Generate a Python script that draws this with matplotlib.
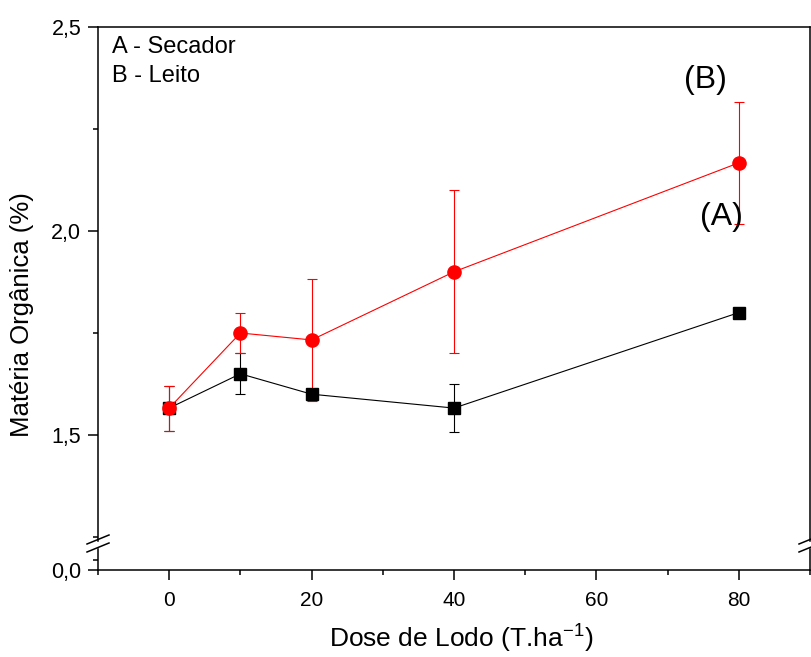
import matplotlib
matplotlib.use("Agg")
import matplotlib.pyplot as plt
from matplotlib.lines import Line2D
from matplotlib.ticker import FixedLocator, FuncFormatter, MultipleLocator

plt.rcParams['font.family'] = ['Liberation Sans', 'DejaVu Sans']

# Sludge dose (T/ha)
dose = [0, 10, 20, 40, 80]
# A - Secador (dryer)
secador = [1.566, 1.65, 1.60, 1.566, 1.80]
secador_err = [0.055, 0.05, 0.0, 0.058, 0.0]
# B - Leito (drying bed)
leito = [1.566, 1.75, 1.733, 1.90, 2.167]
leito_err = [0.055, 0.05, 0.15, 0.20, 0.15]

W, H = 812, 657
fig = plt.figure(figsize=(W / 100, H / 100), dpi=100)

def fx(px):
    return px / W

def fy(py):
    return 1 - py / H

left, right = 98, 810
top, brk_hi, brk_lo, bottom = 27, 541, 549, 570

ax = fig.add_axes([fx(left), fy(brk_hi), fx(right) - fx(left), fy(top) - fy(brk_hi)])
axb = fig.add_axes([fx(left), fy(bottom), fx(right) - fx(left), fy(brk_lo) - fy(bottom)], sharex=ax)

px_per_unit = 408.0
ax.set_ylim(1.5 - (brk_hi - 435) / px_per_unit, 2.5)
axb.set_ylim(0.0, (bottom - brk_lo) / px_per_unit)
ax.set_xlim(-10, 90)

comma = FuncFormatter(lambda v, p: f"{v:.1f}".replace('.', ','))
ax.yaxis.set_major_locator(FixedLocator([1.5, 2.0, 2.5]))
ax.yaxis.set_minor_locator(FixedLocator([1.25, 1.75, 2.25]))
ax.yaxis.set_major_formatter(comma)
axb.yaxis.set_major_locator(FixedLocator([0.0]))
axb.yaxis.set_minor_locator(FixedLocator([0.025]))
axb.yaxis.set_major_formatter(comma)
axb.xaxis.set_major_locator(MultipleLocator(20))
axb.xaxis.set_minor_locator(MultipleLocator(10))

for a in (ax, axb):
    for s in a.spines.values():
        s.set_linewidth(1.1)
    a.tick_params(which='major', direction='out', length=7, width=1.1)
    a.tick_params(which='minor', direction='out', length=3.5, width=1.1)
    a.tick_params(axis='y', which='both', right=False, labelsize=15.5, pad=5)
    a.tick_params(axis='x', which='both', top=False, labelsize=15, pad=8)

ax.spines['bottom'].set_visible(False)
axb.spines['top'].set_visible(False)
ax.tick_params(axis='x', which='both', bottom=False, labelbottom=False)

# Series: error bars below, markers stacked above them
ax.errorbar(dose, secador, yerr=secador_err, color='black', lw=0.8, elinewidth=0.8,
            capsize=3.5, capthick=0.8, fmt='none', zorder=2)
ax.errorbar(dose, leito, yerr=leito_err, color='#ff0000', lw=0.8, elinewidth=0.8,
            capsize=3.5, capthick=0.8, fmt='none', zorder=3)
ax.plot(dose, secador, color='black', lw=0.8, marker='s', ms=8, zorder=4)
ax.plot(dose, leito, color='#ff0000', lw=0.8, marker='o', ms=9.5, zorder=5)

# Annotations
ax.text(0.02, 0.962, "A - Secador", transform=ax.transAxes, fontsize=17, va='center', ha='left')
ax.text(0.02, 0.904, "B - Leito", transform=ax.transAxes, fontsize=17, va='center', ha='left')
ax.text(75.3, 2.37, "(B)", fontsize=23, ha='center', va='center')
ax.text(77.5, 2.035, "(A)", fontsize=23, ha='center', va='center')

fig.text(fx(22), fy(315), "Matéria Orgânica (%)", rotation=90, fontsize=18.5,
         ha='center', va='center')
fig.text(fx(461), fy(638), "Dose de Lodo (T.ha$^{\\mathregular{-1}}$)", fontsize=19,
         ha='center', va='center')

# Axis break marks on both vertical spines
for xs in (left, right):
    for dy in (0, 8):
        fig.add_artist(Line2D([fx(xs - 11), fx(xs + 11)],
                              [fy(brk_hi + 3 + dy), fy(brk_hi - 6 + dy)],
                              color='black', lw=1.1))

fig.savefig("out.png", dpi=100)
